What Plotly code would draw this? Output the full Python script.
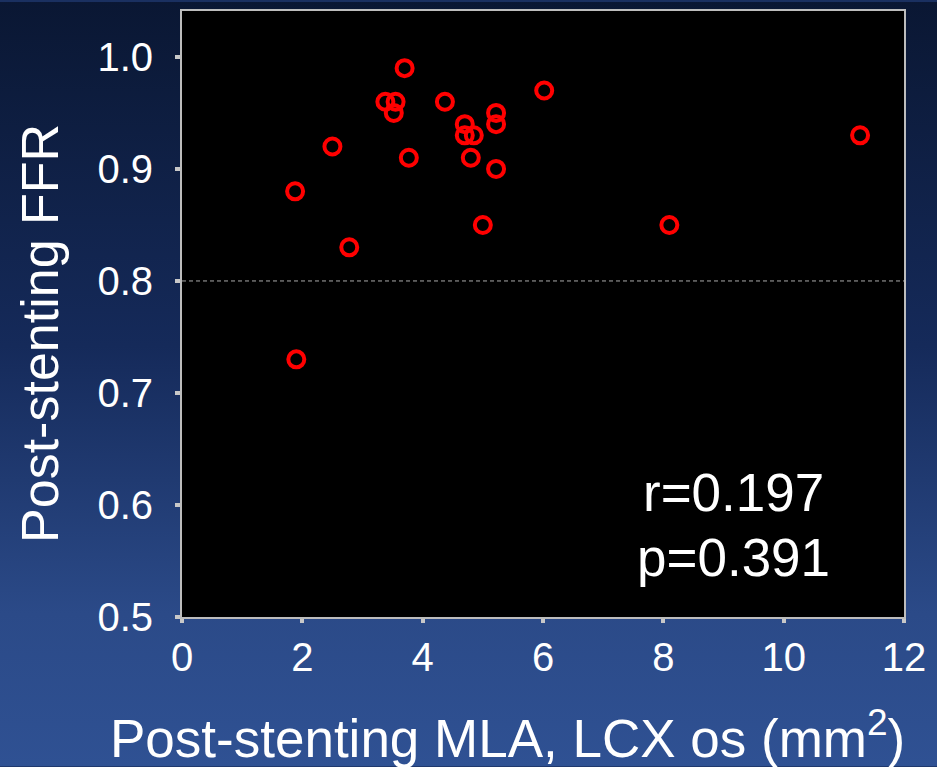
import base64
import plotly.graph_objects as go

# Data
mla = [1.88, 1.90, 2.50, 2.78, 3.38, 3.55, 3.52, 3.70, 3.77, 4.37, 4.70,
       4.70, 4.85, 4.80, 5.00, 5.22, 5.22, 5.22, 6.02, 8.10, 11.27]
ffr = [0.88, 0.73, 0.92, 0.83, 0.96, 0.96, 0.95, 0.99, 0.91, 0.96, 0.94,
       0.93, 0.93, 0.91, 0.85, 0.95, 0.94, 0.90, 0.97, 0.85, 0.93]
x_ticks = [0, 2, 4, 6, 8, 10, 12]
y_ticks = [0.5, 0.6, 0.7, 0.8, 0.9, 1.0]
cutoff = 0.8
stats_r = "r=0.197"
stats_p = "p=0.391"

FONT = "Arial, Liberation Sans, sans-serif"

svg = ('<svg xmlns="http://www.w3.org/2000/svg" width="100" height="100" preserveAspectRatio="none">'
       '<defs><linearGradient id="g" x1="0" y1="0" x2="0" y2="1">'
       '<stop offset="0" stop-color="#0a1733"/>'
       '<stop offset="0.45" stop-color="#152a5a"/>'
       '<stop offset="0.8" stop-color="#2b4a88"/>'
       '<stop offset="1" stop-color="#2f5193"/>'
       '</linearGradient></defs>'
       '<rect width="100" height="100" fill="url(#g)"/></svg>')
src = "data:image/svg+xml;base64," + base64.b64encode(svg.encode()).decode()

W, H = 937, 767
L, R, T, B = 182, 33, 9, 150
pw, ph = W - L - R, H - T - B

fig = go.Figure()
fig.add_trace(go.Scatter(
    x=mla, y=ffr, mode="markers",
    marker=dict(symbol="circle-open", size=16, color="#ff0000",
                line=dict(width=4, color="#ff0000")),
    showlegend=False, hoverinfo="x+y"))

fig.update_layout(
    width=W, height=H,
    margin=dict(l=L, r=R, t=T, b=B),
    paper_bgcolor="#1a3060", plot_bgcolor="#000000",
    font=dict(family=FONT, color="white", size=40),
    images=[dict(source=src, xref="paper", yref="paper",
                 x=-L / pw, y=1 + T / ph, sizex=W / pw, sizey=H / ph,
                 xanchor="left", yanchor="top", sizing="stretch", layer="below")],
    shapes=[
        dict(type="rect", xref="paper", yref="paper", x0=0, x1=1, y0=0, y1=1,
             fillcolor="#000000", line=dict(width=0), layer="below"),
        dict(type="line", xref="paper", yref="y", x0=0, x1=1, y0=cutoff, y1=cutoff,
             line=dict(color="#aaaaaa", width=1, dash="4px,3px"), layer="below"),
    ],
    annotations=[
        dict(text=stats_r, x=9.17, y=0.611, xref="x", yref="y", showarrow=False,
             font=dict(size=53, color="white", family=FONT), xanchor="center", yanchor="middle"),
        dict(text=stats_p, x=9.17, y=0.553, xref="x", yref="y", showarrow=False,
             font=dict(size=53, color="white", family=FONT), xanchor="center", yanchor="middle"),
        dict(text="Post-stenting MLA, LCX os (mm<sup>2</sup>)", x=(507 - L) / pw, y=-(767 - 617) / ph,
             xref="paper", yref="paper", showarrow=False, xanchor="center", yanchor="bottom",
             yshift=-3, font=dict(size=53, color="white", family=FONT)),
        dict(text="Post-stenting FFR", x=-(L - 40) / pw, y=(617 - 333) / ph,
             xref="paper", yref="paper", showarrow=False, xanchor="center", yanchor="middle",
             textangle=-90, font=dict(size=52, color="white", family=FONT)),
    ],
)

fig.update_xaxes(range=[0, 12], tickvals=x_ticks, ticktext=[str(v) for v in x_ticks],
                 showgrid=False, zeroline=False, showline=True, mirror=True,
                 linecolor="#bdbdbd", linewidth=2, ticks="outside", ticklen=4,
                 tickwidth=4, tickcolor="#c8c8c8", tickfont=dict(size=40, color="white"),
                 ticklabelstandoff=0)
fig.update_yaxes(range=[0.5, 1.041], tickvals=y_ticks, ticktext=[f"{v:.1f}" for v in y_ticks],
                 showgrid=False, zeroline=False, showline=True, mirror=True,
                 linecolor="#bdbdbd", linewidth=2, ticks="outside", ticklen=5,
                 tickwidth=4, tickcolor="#c8c8c8", tickfont=dict(size=40, color="white"),
                 ticklabelstandoff=14)

fig.write_html("out.html", config={"displayModeBar": False},
               post_script="document.body.style.margin='0';document.body.style.overflow='hidden';")
